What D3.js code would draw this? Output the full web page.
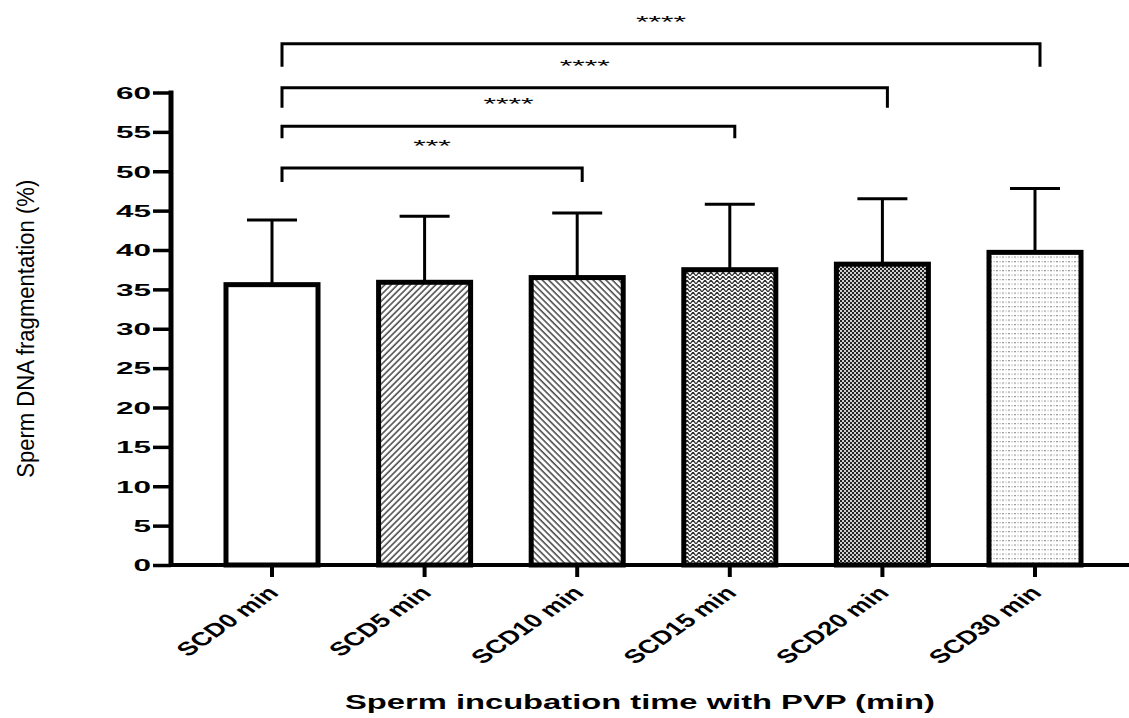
<!DOCTYPE html>
<html>
<head>
<meta charset="utf-8">
<script src="https://cdn.jsdelivr.net/npm/d3@7/dist/d3.min.js"></script>
<style>
  html, body { margin: 0; padding: 0; background: #fff; }
  svg { display: block; }
  text { font-family: "Liberation Sans", Arial, Helvetica, sans-serif; fill: #000; }
</style>
</head>
<body>
<svg id="chart" width="1129" height="718"></svg>
<script>
// ---------------- data ----------------
const categories = ["SCD0 min", "SCD5 min", "SCD10 min", "SCD15 min", "SCD20 min", "SCD30 min"];
const means = [35.6, 35.9, 36.5, 37.5, 38.2, 39.7];
const sds = [8.2, 8.4, 8.2, 8.3, 8.3, 8.1];
const yTicks = [0, 5, 10, 15, 20, 25, 30, 35, 40, 45, 50, 55, 60];
const compFrom = [0, 0, 0, 0];
const compTo = [2, 3, 4, 5];
const compLabels = ["***", "****", "****", "****"];
const yTitle = "Sperm DNA fragmentation (%)";
const xTitle = "Sperm incubation time with PVP (min)";

// ---------------- layout ----------------
const W = 1129, H = 718;
const svg = d3.select("#chart");
const y = d3.scaleLinear().domain([0, 60]).range([565, 92.5]);
const x = d3.scaleBand().domain(categories).range([195.7, 1111.3])
  .paddingInner(0.397).paddingOuter(0.1985);
const bw = x.bandwidth();
const axisX = 171;

// bracket layout (levels in value units, leg length in px)
const bracketLevel = [50.4, 55.7, 60.6, 66.2];
const bracketLeg = [14, 12, 20, 23];

// ---------------- patterns ----------------
const defs = svg.append("defs");
function linePattern(id, angle) {
  const p = defs.append("pattern").attr("id", id).attr("patternUnits", "userSpaceOnUse")
    .attr("width", 4.5).attr("height", 10).attr("patternTransform", `rotate(${angle})`);
  p.append("rect").attr("width", 4.5).attr("height", 10).attr("fill", "#fff");
  p.append("line").attr("x1", 1).attr("x2", 1).attr("y1", 0).attr("y2", 10)
    .attr("stroke", "#444").attr("stroke-width", 1.5);
}
linePattern("pat1", 45);
linePattern("pat2", -45);
{
  const p = defs.append("pattern").attr("id", "pat3").attr("patternUnits", "userSpaceOnUse")
    .attr("width", 6).attr("height", 4);
  p.append("rect").attr("width", 6).attr("height", 4).attr("fill", "#fff");
  p.append("path").attr("d", "M0,4 L3,0 L6,4").attr("fill", "none")
    .attr("stroke", "#333").attr("stroke-width", 1.3);
}
{
  const p = defs.append("pattern").attr("id", "pat4").attr("patternUnits", "userSpaceOnUse")
    .attr("width", 4).attr("height", 4);
  p.append("rect").attr("width", 4).attr("height", 4).attr("fill", "#d0d0d0");
  p.append("rect").attr("x", 0).attr("y", 0).attr("width", 2).attr("height", 2).attr("fill", "#222");
  p.append("rect").attr("x", 2).attr("y", 2).attr("width", 2).attr("height", 2).attr("fill", "#222");
}
{
  const p = defs.append("pattern").attr("id", "pat5").attr("patternUnits", "userSpaceOnUse")
    .attr("width", 6).attr("height", 4.5);
  p.append("rect").attr("width", 6).attr("height", 4.5).attr("fill", "#fff");
  p.append("rect").attr("x", 0).attr("y", 0).attr("width", 2).attr("height", 1.2).attr("fill", "#999");
  p.append("rect").attr("x", 3.5).attr("y", 0).attr("width", 1.2).attr("height", 1.2).attr("fill", "#b0b0b0");
}
const fills = ["#fff", "url(#pat1)", "url(#pat2)", "url(#pat3)", "url(#pat4)", "url(#pat5)"];

// ---------------- error bars ----------------
const eb = svg.append("g");
categories.forEach((c, i) => {
  const cx = x(c) + bw / 2;
  eb.append("line").attr("x1", cx).attr("x2", cx)
    .attr("y1", y(means[i])).attr("y2", y(means[i] + sds[i]))
    .attr("stroke", "#000").attr("stroke-width", 3);
  eb.append("line").attr("x1", cx - 25).attr("x2", cx + 25)
    .attr("y1", y(means[i] + sds[i])).attr("y2", y(means[i] + sds[i]))
    .attr("stroke", "#000").attr("stroke-width", 3);
});

// ---------------- bars ----------------
svg.append("g").selectAll("rect").data(categories).join("rect")
  .attr("x", d => x(d))
  .attr("y", (d, i) => y(means[i]))
  .attr("width", bw)
  .attr("height", (d, i) => y(0) - y(means[i]))
  .attr("fill", (d, i) => fills[i])
  .attr("stroke", "#000").attr("stroke-width", 5);

// ---------------- axes ----------------
const gy = svg.append("g").attr("transform", `translate(${axisX},0)`)
  .call(d3.axisLeft(y).tickValues(yTicks).tickSize(18).tickSizeOuter(0).tickPadding(4));
gy.select(".domain").remove();
gy.selectAll(".tick line").attr("stroke", "#000").attr("stroke-width", 3.5);
gy.selectAll(".tick text")
  .attr("font-size", 16).attr("font-weight", "bold")
  .attr("x", -20).attr("dy", "0.36em")
  .attr("textLength", d => String(d).length * 17.5)
  .attr("lengthAdjust", "spacingAndGlyphs");

const gx = svg.append("g").attr("transform", `translate(0,${y(0)})`)
  .call(d3.axisBottom(x).tickSize(12).tickSizeOuter(0));
gx.select(".domain").remove();
gx.selectAll(".tick line").attr("stroke", "#000").attr("stroke-width", 4);
gx.selectAll(".tick text")
  .attr("font-size", 19).attr("font-weight", "bold")
  .attr("x", 0).attr("y", 0).attr("dy", 0)
  .attr("text-anchor", "end")
  .attr("transform", "translate(8,29) scale(1.45,1) rotate(-45)");

// axis lines
svg.append("line").attr("x1", axisX).attr("x2", axisX).attr("y1", y(60) - 2).attr("y2", y(0) + 2)
  .attr("stroke", "#000").attr("stroke-width", 5);
svg.append("line").attr("x1", axisX - 2).attr("x2", W).attr("y1", y(0)).attr("y2", y(0))
  .attr("stroke", "#000").attr("stroke-width", 4);

// ---------------- significance brackets ----------------
const gb = svg.append("g");
compFrom.forEach((f, k) => {
  const x1 = x(categories[f]) + bw / 2 + 10;
  const x2 = x(categories[compTo[k]]) + bw / 2 + 5;
  const yy = y(bracketLevel[k]);
  gb.append("path")
    .attr("d", `M${x1},${yy + bracketLeg[k]} V${yy} H${x2} V${yy + bracketLeg[k]}`)
    .attr("fill", "none").attr("stroke", "#000").attr("stroke-width", 3);
  gb.append("text")
    .attr("x", (x1 + x2) / 2).attr("y", yy - 25 + 9)
    .attr("text-anchor", "middle").attr("font-size", 16)
    .attr("textLength", compLabels[k].length * 12.5).attr("lengthAdjust", "spacingAndGlyphs")
    .attr("fill", "#333")
    .text(compLabels[k]);
});

// ---------------- titles ----------------
svg.append("text")
  .attr("transform", `translate(34,${(y(0) + y(60)) / 2}) rotate(-90)`)
  .attr("text-anchor", "middle").attr("font-size", 23)
  .attr("textLength", 298).attr("lengthAdjust", "spacingAndGlyphs")
  .text(yTitle);

svg.append("text")
  .attr("x", 640).attr("y", 709)
  .attr("text-anchor", "middle").attr("font-size", 21).attr("font-weight", "bold")
  .attr("textLength", 590).attr("lengthAdjust", "spacingAndGlyphs")
  .text(xTitle);
</script>
</body>
</html>
